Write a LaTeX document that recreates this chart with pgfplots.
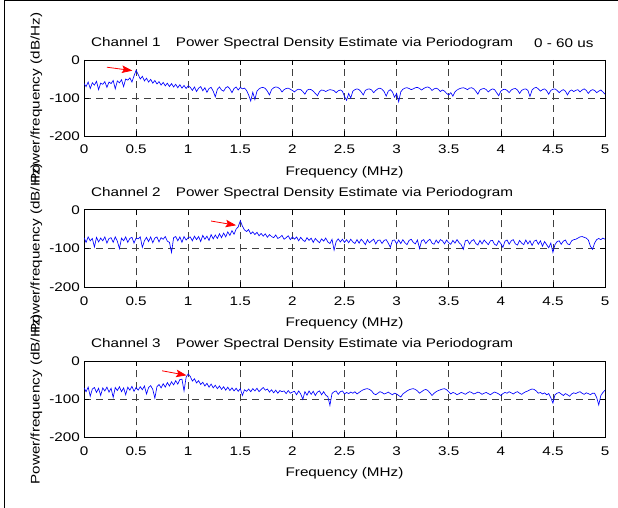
\documentclass[border=0pt]{standalone}
\usepackage{fontspec}
\setmainfont{Liberation Sans}[FakeStretch=1.22]
\usepackage{pgfplots}
\pgfplotsset{compat=1.18}
\usepackage{pgfplotstable}
\usetikzlibrary{arrows.meta}
\newcommand{\F}{\fontsize{12.5}{15}\selectfont}

\pgfplotstableread[row sep=\\]{y\\
-62\\ -70\\ -58\\ -75\\ -60\\ -66\\ -56\\ -78\\ -61\\ -64\\ -57\\ -72\\ -58\\ -62\\ -54\\ -76\\ -55\\ -60\\ -52\\ -70\\ -50\\
-53\\ -47\\ -58\\ -42\\
-27\\
-38\\ -50\\ -43\\ -55\\ -48\\ -58\\ -51\\ -61\\ -54\\ -63\\ -57\\ -66\\ -59\\ -68\\ -61\\ -70\\ -62\\ -71\\ -64\\ -73\\ -65\\ -74\\ -67\\ -75\\ -68\\
-72\\ -80\\ -71\\ -83\\ -74\\ -70\\ -81\\ -73\\ -85\\ -75\\ -72\\ -82\\ -97\\ -77\\ -71\\ -79\\ -82\\ -73\\ -70\\ -76\\ -86\\ -75\\ -71\\ -79\\ -72\\
-76\\ -74\\ -80\\ -92\\ -108\\ -85\\ -104\\ -82\\ -76\\ -73\\ -72\\ -75\\ -82\\ -92\\ -78\\ -73\\ -71\\ -72\\ -76\\ -84\\ -78\\ -75\\ -74\\ -77\\ -80\\
-84\\ -79\\ -77\\ -78\\ -83\\ -90\\ -80\\ -77\\ -78\\ -82\\ -88\\ -94\\ -83\\ -79\\ -80\\ -83\\ -80\\ -78\\ -79\\ -81\\ -86\\ -81\\ -79\\ -82\\ -96\\
-106\\ -88\\ -100\\ -82\\ -78\\ -76\\ -78\\ -84\\ -92\\ -80\\ -77\\ -76\\ -79\\ -86\\ -80\\ -76\\ -74\\ -77\\ -83\\ -95\\ -82\\ -78\\ -84\\ -98\\ -88\\
-110\\ -84\\ -77\\ -74\\ -73\\ -75\\ -78\\ -76\\ -73\\ -72\\ -75\\ -79\\ -75\\ -72\\ -71\\ -74\\ -80\\ -76\\ -74\\ -77\\ -83\\ -79\\ -82\\ -88\\ -92\\
-86\\ -95\\ -84\\ -79\\ -76\\ -74\\ -73\\ -75\\ -78\\ -74\\ -73\\ -76\\ -82\\ -90\\ -79\\ -76\\ -75\\ -78\\ -84\\ -79\\ -76\\ -78\\ -86\\ -94\\ -82\\
-78\\ -77\\ -80\\ -86\\ -79\\ -76\\ -75\\ -79\\ -88\\ -80\\ -77\\ -76\\ -80\\ -96\\ -79\\ -74\\ -72\\ -76\\ -82\\ -78\\ -76\\ -81\\ -90\\ -80\\ -77\\
-76\\ -80\\ -86\\ -81\\ -78\\ -82\\ -92\\ -82\\ -79\\ -83\\ -80\\ -78\\ -84\\ -79\\ -76\\ -80\\ -88\\ -81\\ -78\\ -80\\ -86\\ -82\\ -79\\ -84\\ -90\\
}\chA

\pgfplotstableread[row sep=\\]{y\\
-72\\ -84\\ -70\\ -80\\ -74\\ -96\\ -71\\ -83\\ -73\\ -80\\ -70\\ -86\\ -74\\ -72\\ -84\\ -70\\ -81\\ -100\\ -73\\ -80\\ -70\\ -84\\ -74\\ -71\\ -86\\ -73\\
-75\\ -70\\ -97\\ -80\\ -71\\ -82\\ -70\\ -85\\ -73\\ -70\\ -83\\ -72\\ -76\\ -69\\ -81\\ -84\\ -110\\ -72\\ -69\\ -80\\ -70\\ -84\\ -69\\ -78\\ -72\\
-70\\ -80\\ -68\\ -77\\ -69\\ -82\\ -66\\ -76\\ -68\\ -79\\ -64\\ -75\\ -65\\ -74\\ -62\\ -72\\ -60\\ -70\\ -57\\ -66\\ -54\\ -63\\ -50\\ -44\\ -28\\
-42\\ -52\\ -56\\ -51\\ -62\\ -57\\ -64\\ -58\\ -67\\ -61\\ -68\\ -62\\ -71\\ -64\\ -69\\ -72\\ -65\\ -74\\ -71\\ -66\\ -76\\ -72\\ -67\\ -77\\ -70\\
-76\\ -70\\ -80\\ -71\\ -78\\ -82\\ -72\\ -79\\ -73\\ -84\\ -74\\ -80\\ -85\\ -75\\ -81\\ -73\\ -83\\ -87\\ -76\\ -104\\ -82\\ -75\\ -83\\ -76\\ -84\\
-77\\ -85\\ -76\\ -83\\ -87\\ -77\\ -86\\ -76\\ -82\\ -90\\ -77\\ -85\\ -80\\ -76\\ -88\\ -79\\ -78\\ -87\\ -79\\ -77\\ -86\\ -97\\ -79\\ -78\\ -88\\
-78\\ -87\\ -77\\ -85\\ -90\\ -79\\ -76\\ -84\\ -88\\ -78\\ -100\\ -80\\ -77\\ -87\\ -80\\ -76\\ -86\\ -89\\ -78\\ -86\\ -77\\ -80\\ -88\\ -78\\ -85\\
-89\\ -79\\ -86\\ -77\\ -85\\ -90\\ -102\\ -80\\ -78\\ -88\\ -80\\ -77\\ -87\\ -91\\ -79\\ -88\\ -78\\ -84\\ -90\\ -80\\ -79\\ -89\\ -92\\ -80\\ -87\\
-97\\ -81\\ -78\\ -89\\ -80\\ -77\\ -88\\ -91\\ -79\\ -86\\ -90\\ -78\\ -88\\ -80\\ -92\\ -81\\ -78\\ -89\\ -80\\ -94\\ -82\\ -90\\ -98\\ -86\\ -110\\
-90\\ -82\\ -80\\ -89\\ -81\\ -78\\ -88\\ -90\\ -80\\ -77\\ -76\\ -73\\ -70\\ -69\\ -71\\ -73\\ -78\\ -94\\ -102\\ -86\\ -77\\ -74\\ -77\\ -73\\ -76\\
}\chB

\pgfplotstableread[row sep=\\]{y\\
-70\\ -80\\ -68\\ -92\\ -73\\ -69\\ -82\\ -71\\ -90\\ -70\\ -78\\ -68\\ -81\\ -71\\ -95\\ -69\\ -77\\ -67\\ -80\\ -70\\ -88\\ -68\\ -76\\ -66\\ -79\\ -69\\
-76\\ -67\\ -75\\ -65\\ -86\\ -69\\ -64\\ -74\\ -97\\ -67\\ -61\\ -70\\ -59\\ -68\\ -56\\ -65\\ -54\\ -62\\ -51\\ -60\\ -48\\ -47\\ -78\\ -42\\ -33\\
-40\\ -52\\ -46\\ -57\\ -51\\ -61\\ -55\\ -65\\ -58\\ -68\\ -60\\ -70\\ -63\\ -72\\ -65\\ -74\\ -67\\ -76\\ -68\\ -77\\ -70\\ -78\\ -71\\ -79\\ -72\\
-90\\ -75\\ -79\\ -73\\ -80\\ -72\\ -78\\ -71\\ -80\\ -74\\ -69\\ -76\\ -73\\ -81\\ -75\\ -83\\ -76\\ -84\\ -77\\ -80\\ -78\\ -85\\ -77\\ -84\\ -81\\
-79\\ -88\\ -78\\ -86\\ -100\\ -80\\ -89\\ -78\\ -87\\ -79\\ -90\\ -81\\ -78\\ -88\\ -80\\ -89\\ -93\\ -116\\ -85\\ -80\\ -78\\ -87\\ -80\\ -78\\ -86\\
-82\\ -85\\ -81\\ -84\\ -80\\ -86\\ -82\\ -78\\ -75\\ -73\\ -72\\ -74\\ -78\\ -85\\ -88\\ -84\\ -80\\ -82\\ -86\\ -84\\ -81\\ -85\\ -88\\ -84\\ -86\\
-90\\ -94\\ -86\\ -82\\ -78\\ -75\\ -73\\ -72\\ -74\\ -78\\ -84\\ -80\\ -76\\ -74\\ -77\\ -83\\ -90\\ -84\\ -80\\ -77\\ -75\\ -73\\ -72\\ -75\\ -80\\
-86\\ -82\\ -84\\ -88\\ -85\\ -82\\ -84\\ -87\\ -83\\ -80\\ -82\\ -86\\ -84\\ -81\\ -83\\ -87\\ -84\\ -82\\ -85\\ -88\\ -84\\ -81\\ -83\\ -86\\ -90\\
-85\\ -82\\ -84\\ -80\\ -83\\ -86\\ -82\\ -80\\ -84\\ -87\\ -83\\ -80\\ -78\\ -75\\ -73\\ -74\\ -78\\ -84\\ -82\\ -86\\ -83\\ -88\\ -85\\ -96\\ -110\\
-88\\ -84\\ -82\\ -86\\ -90\\ -85\\ -88\\ -92\\ -86\\ -83\\ -85\\ -82\\ -80\\ -84\\ -87\\ -83\\ -85\\ -88\\ -84\\ -84\\ -95\\ -115\\ -90\\ -82\\ -76\\
}\chC

\pgfplotsset{
  psd/.style={
    anchor=south west, scale only axis, width=521pt,
    xmin=0, xmax=5, ymin=-200, ymax=0,
    xtick={0,0.5,1,1.5,2,2.5,3,3.5,4,4.5,5},
    xticklabels={0,0.5,1,1.5,2,2.5,3,3.5,4,4.5,5},
    ytick={-200,-100,0}, yticklabels={-200,-100,0},
    /pgf/number format/assume math mode=true,
    tick align=inside, major tick length=5pt,
    xmajorgrids, ymajorgrids,
    grid style={black!75, dash pattern=on 7pt off 5pt, line width=0.6pt},
    axis line style={line width=0.8pt},
    every tick/.style={black, line width=0.6pt},
    tick label style={font=\F},
    xticklabel style={anchor=base, yshift=-18pt, inner sep=0pt},
    yticklabel style={anchor=east, xshift=-4pt, inner sep=0pt},
  },
  trace/.style={blue, line width=0.65pt},
}
\tikzset{pk/.style={red, line width=0.8pt, -{Stealth[length=10.5pt,width=7.5pt,inset=2pt]}}}

\begin{document}
\begin{tikzpicture}[x=1pt,y=1pt]
\useasboundingbox (0,0) rectangle (618,508);
\fill[white] (0,0) rectangle (618,508);

\begin{axis}[psd, at={(84pt,372pt)}, height=76pt]
\addplot[trace] table[x expr=\coordindex*0.02, y=y] {\chA};
\draw[pk] (axis cs:0.22,-19) -- (axis cs:0.465,-28);
\end{axis}

\begin{axis}[psd, at={(84pt,220.7pt)}, height=77.5pt]
\addplot[trace] table[x expr=\coordindex*0.02, y=y] {\chB};
\draw[pk] (axis cs:1.22,-29) -- (axis cs:1.46,-40);
\end{axis}

\begin{axis}[psd, at={(84pt,70.7pt)}, height=76pt]
\addplot[trace] table[x expr=\coordindex*0.02, y=y] {\chC};
\draw[pk] (axis cs:0.75,-25) -- (axis cs:0.985,-37);
\end{axis}

\draw[line width=1pt] (4.5,0) -- (4.5,507) -- (618,507);

\begin{scope}[every node/.style={font=\F, inner sep=0pt}]
\node[anchor=base] at (344.5,461.5) {Power Spectral Density Estimate via Periodogram};
\node[anchor=base west] at (91,461.5) {Channel 1};
\node[anchor=base west] at (534,460.7) {0 - 60 us};
\node[anchor=base] at (344.5,311.3) {Power Spectral Density Estimate via Periodogram};
\node[anchor=base west] at (91,311.3) {Channel 2};
\node[anchor=base] at (344.5,160.7) {Power Spectral Density Estimate via Periodogram};
\node[anchor=base west] at (91,160.7) {Channel 3};
\node[anchor=base] at (344.5,332.3) {Frequency (MHz)};
\node[anchor=base] at (344.5,181.3) {Frequency (MHz)};
\node[anchor=base] at (344.5,31) {Frequency (MHz)};
\node[rotate=90, anchor=base] at (39.5,410) {Power/frequency (dB/Hz)};
\node[rotate=90, anchor=base] at (39.5,259.6) {Power/frequency (dB/Hz)};
\node[rotate=90, anchor=base] at (39.5,108.7) {Power/frequency (dB/Hz)};
\end{scope}
\end{tikzpicture}
\end{document}
